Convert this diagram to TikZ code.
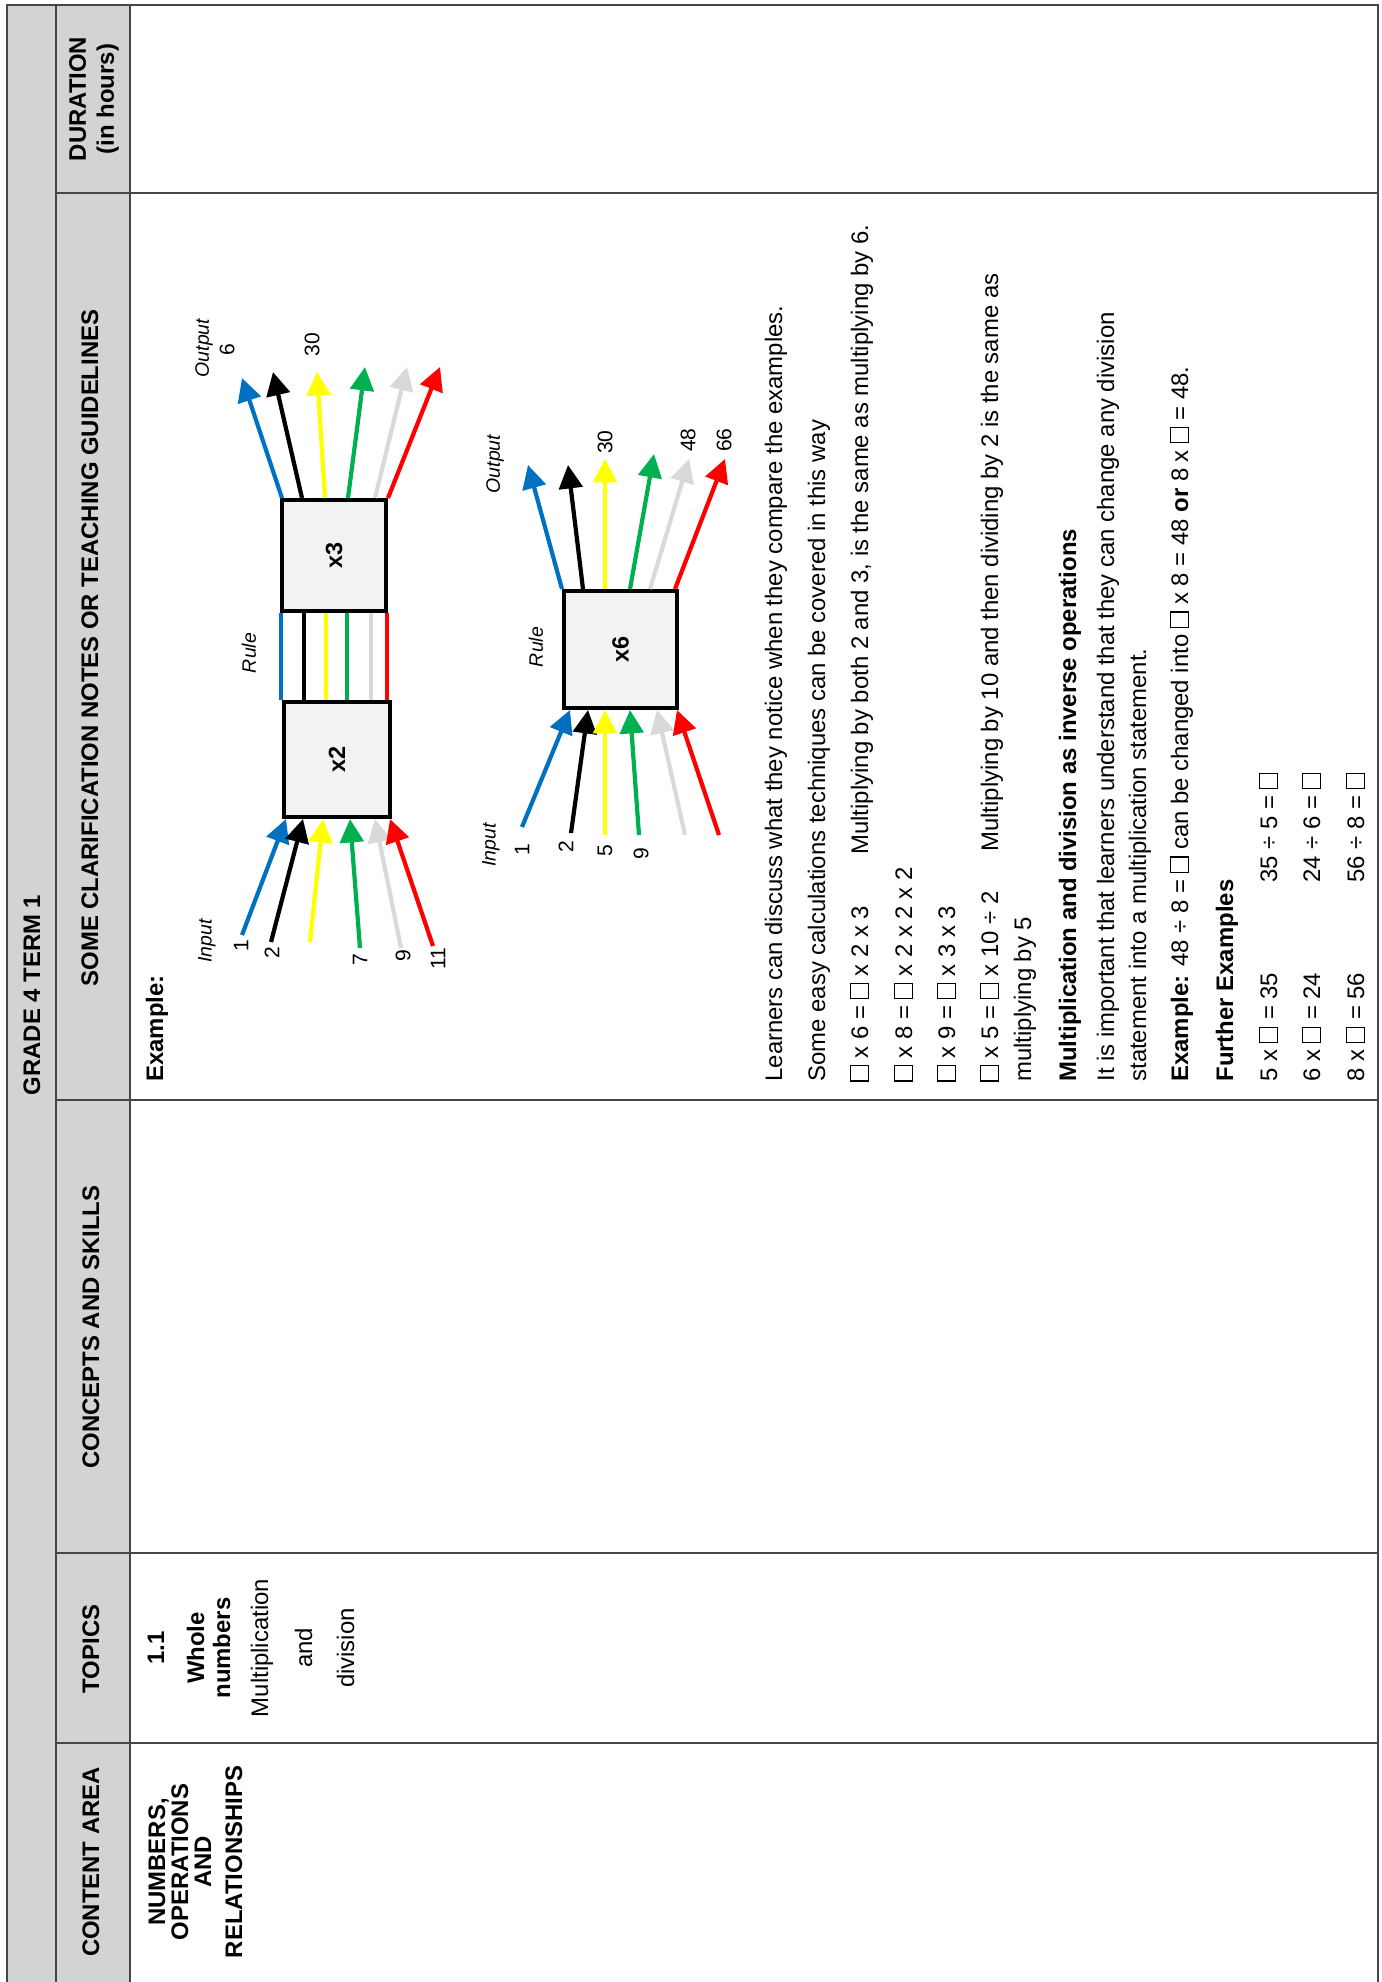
\documentclass[tikz,border=0pt]{standalone}
\usepackage{fontspec}
\setmainfont{Liberation Sans}
\usepackage{graphicx}
\usetikzlibrary{arrows.meta}

\definecolor{hdrgray}{RGB}{209,211,212}
\definecolor{boxgray}{RGB}{242,242,242}
\definecolor{rulegray}{RGB}{70,70,70}
\definecolor{fblue}{RGB}{0,112,192}
\definecolor{fyellow}{RGB}{255,255,0}
\definecolor{fgreen}{RGB}{0,176,80}
\definecolor{fgray}{RGB}{217,217,217}
\definecolor{fred}{RGB}{255,0,0}

%% empty answer box
\newcommand{\blank}{{\setlength{\fboxsep}{0pt}\setlength{\fboxrule}{0.45pt}\fbox{\rule{0pt}{0.7em}\hspace{0.6em}}}}

\tikzset{
    txt/.style={rotate=90, inner sep=0pt, anchor=base west, font=\fontsize{10.2}{12}\selectfont},
    bold/.style={font=\fontsize{10.2}{12}\selectfont\bfseries},
    hdr/.style={rotate=90, inner sep=0pt, align=center, font=\fontsize{10.2}{12}\selectfont\bfseries},
    lbl/.style={rotate=90, inner sep=0pt, font=\fontsize{8.3}{10}\selectfont\itshape},
    num/.style={rotate=90, inner sep=0pt, font=\fontsize{9}{10}\selectfont},
    rulebox/.style={draw, line width=1.7pt, fill=boxgray, inner sep=0pt, font=\fontsize{10}{12}\selectfont\bfseries},
    flow/.style={line width=1.8pt, -{Triangle[width=10pt,length=10pt]}},
    wire/.style={line width=1.8pt},
    grid/.style={rulegray, line width=0.6pt},
}

\begin{document}
\begin{tikzpicture}[x=0.15mm,y=-0.15mm]
    \useasboundingbox (0,0) rectangle (1381,1982);
    %% table frame
    \fill[hdrgray] (7,5) rectangle (130,1990);
    \draw[grid] (7,1990) -- (7,5) -- (1378,5) -- (1378,1990);
    \draw[grid] (56,5) -- (56,1990) (130,5) -- (130,1990);
    \foreach \y in {193,1100,1553,1743}
        \draw[grid] (56,\y) -- (1378,\y);

    %% headings
    \node[hdr] (grade) at (32,995) {GRADE 4 TERM 1};
    \node[hdr] (hdur) at (94,99) {DURATION\\(in hours)};
    \node[hdr] (hclar) at (90,648) {SOME CLARIFICATION NOTES OR TEACHING GUIDELINES};
    \node[hdr] (hconc) at (91,1327) {CONCEPTS AND SKILLS};
    \node[hdr] (htop) at (91,1649) {TOPICS};
    \node[hdr] (harea) at (91,1862) {CONTENT AREA};

    %% content area and topic
    \foreach \t/\x [count=\i] in {{NUMBERS,}/165, OPERATIONS/188, AND/211, RELATIONSHIPS/242}
        \node[txt, anchor=base, bold] (area\i) at (\x,1862) {\t};
    \node[txt, anchor=base, bold] (tnum) at (164,1648) {1.1};
    \node[txt, anchor=base, bold] (twhole) at (204,1648) {Whole};
    \node[txt, anchor=base, bold] (tnumbers) at (230,1648) {numbers};
    \node[txt, anchor=base] (tmult) at (268,1648) {Multiplication};
    \node[txt, anchor=base] (tand) at (312,1648) {and};
    \node[txt, anchor=base] (tdiv) at (354,1648) {division};

    %% first machine: x2 then x3
    \node[txt, bold] (exa) at (163,1082) {Example:};
    \node[rulebox, minimum width=15.9mm, minimum height=17.25mm] (xtwo) at (337,759.5) {\rotatebox{90}{x2}};
    \node[rulebox, minimum width=15.6mm, minimum height=16.65mm] (xthree) at (334,555.5) {\rotatebox{90}{x3}};
    \foreach \c/\x in {fblue/281, black/304, fyellow/326, fgreen/347, fgray/371, fred/387}
        \draw[wire, \c] (\x,0 |- xthree.south) -- (\x,0 |- xtwo.north);
    \foreach \c/\tx/\ty/\hx in {fblue/242/935/286, black/271/942/303, fyellow/310/942/323, fgreen/360/948/350, fgray/401/948/375, fred/433/946/390} {
        \coordinate (ina-\c) at (\tx,\ty);
        \draw[flow, \c] (ina-\c) -- (\hx,0 |- xtwo.south);
    }
    \foreach \c/\bx/\hx/\hy in {fblue/282/242/378, black/302/273/372, fyellow/325/317/372, fgreen/348/365/367, fgray/375/407/367, fred/388/440/367} {
        \coordinate (outa-\c) at (\hx,\hy);
        \draw[flow, \c] (\bx,0 |- xthree.north) -- (outa-\c);
    }
    \node[lbl] (inputa) at (207,941) {Input};
    \node[lbl] (rulea) at (249,653) {Rule};
    \node[lbl] (outputa) at (204,348) {Output};
    \foreach \t/\x/\y in {1/241/946, 2/272/953, 7/360/960, 9/403/956, 11/438/959, 6/227/350, 30/312/345}
        \node[num] (numa-\t) at (\x,\y) {\t};

    %% second machine: x6
    \node[rulebox, minimum width=16.95mm, minimum height=17.55mm] (xsix) at (620.5,649.5) {\rotatebox{90}{x6}};
    \foreach \c/\tx/\ty/\hx in {fblue/522/827/570, black/571/833/588, fyellow/605/835/605, fgreen/639/835/630, fgray/685/835/657, fred/719/835/677} {
        \coordinate (inb-\c) at (\tx,\ty);
        \draw[flow, \c] (inb-\c) -- (\hx,0 |- xsix.south);
    }
    \foreach \c/\bx/\hx/\hy in {fblue/562/528/465, black/583/568/465, fyellow/605/605/459, fgreen/630/654/454, fgray/650/689/459, fred/675/725/459} {
        \coordinate (outb-\c) at (\hx,\hy);
        \draw[flow, \c] (\bx,0 |- xsix.north) -- (outb-\c);
    }
    \node[lbl] (inputb) at (491,845) {Input};
    \node[lbl] (ruleb) at (536,647) {Rule};
    \node[lbl] (outputb) at (495,464) {Output};
    \foreach \t/\x/\y in {1/522/850, 2/566/847, 5/605/851, 9/641/854, 30/605/442, 48/688/440, 66/724/440}
        \node[num] (numb-\t) at (\x,\y) {\t};

    %% notes
    \node[txt] (learn) at (782,1082) {Learners can discuss what they notice when they compare the examples.};
    \node[txt] (easy) at (825,1082) {Some easy calculations techniques can be covered in this way};
    \node[txt] (six) at (868,1082) {\blank{} x 6 = \blank{} x 2 x 3};
    \node[txt] (sixnote) at (868,855) {Multiplying by both 2 and 3, is the same as multiplying by 6.};
    \node[txt] (eight) at (912,1082) {\blank{} x 8 = \blank{} x 2 x 2 x 2};
    \node[txt] (nine) at (955,1082) {\blank{} x 9 = \blank{} x 3 x 3};
    \node[txt] (five) at (998,1082) {\blank{} x 5 = \blank{} x 10 ÷ 2};
    \node[txt] (fivenote) at (998,852) {Multiplying by 10 and then dividing by 2 is the same as};
    \node[txt] (fivemore) at (1031,1082) {multiplying by 5};
    \node[txt, bold] (inverse) at (1076,1082) {Multiplication and division as inverse operations};
    \node[txt] (import) at (1114,1082) {It is important that learners understand that they can change any division};
    \node[txt] (stmt) at (1146,1082) {statement into a multiplication statement.};
    \node[txt] (exb) at (1188,1082) {\textbf{Example:} 48 ÷ 8 = \blank{} can be changed into \blank{} x 8 = 48 \textbf{or} 8 x \blank{} = 48.};
    \node[txt, bold] (further) at (1233,1082) {Further Examples};
    \foreach \a/\b/\x in {5/35/1277, 6/24/1320, 8/56/1364} {
        \node[txt] (mul\x) at (\x,1082) {\a{} x \blank{} = \b};
        \node[txt] (div\x) at (\x,883) {\b{} ÷ \a{} = \blank};
    }
\end{tikzpicture}
\end{document}
